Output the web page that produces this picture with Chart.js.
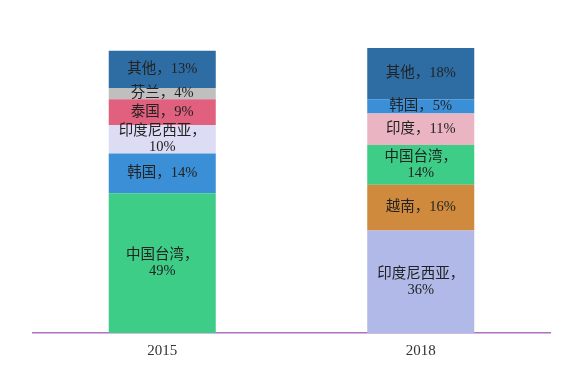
<!DOCTYPE html>
<html>
<head>
<meta charset="utf-8">
<script src="https://cdn.jsdelivr.net/npm/chart.js@4.4.0/dist/chart.umd.min.js"></script>
<style>
  html, body { margin: 0; padding: 0; background: #fff; }
  #wrap { width: 562px; height: 366px; }
</style>
</head>
<body>
<div id="wrap"><canvas id="c" width="562" height="366"></canvas></div>
<script>
// categories and values, bottom segment first
const years = ['2015', '2018'];
const names2015 = ['中国台湾', '韩国', '印度尼西亚', '泰国', '芬兰', '其他'];
const values2015 = [49, 14, 10, 9, 4, 13];
const names2018 = ['印度尼西亚', '越南', '中国台湾', '印度', '韩国', '其他'];
const values2018 = [36, 16, 14, 11, 5, 18];

const colors2015 = ['#3dcd87', '#3a8fd6', '#dcdcf5', '#e0607e', '#bfbfbf', '#2e6da4'];
const colors2018 = ['#b0b9e8', '#cf8a3e', '#3dcd87', '#ebb4c2', '#3a8fd6', '#2e6da4'];

const serif = '"Liberation Serif", "Noto Sans CJK SC", serif';

// one dataset per stack layer
const datasets = values2015.map((v, i) => ({
    label: 'layer' + i,
    data: [v, values2018[i]],
    names: [names2015[i], names2018[i]],
    backgroundColor: [colors2015[i], colors2018[i]],
    borderWidth: 0,
    barPercentage: 0.414,
    categoryPercentage: 1
}));

// draw "name，value%" inside each segment
const segmentLabels = {
    id: 'segmentLabels',
    afterDatasetsDraw(chart) {
        const ctx = chart.ctx;
        ctx.save();
        ctx.font = '14.5px ' + serif;
        ctx.fillStyle = '#222';
        ctx.textAlign = 'center';
        ctx.textBaseline = 'middle';
        chart.data.datasets.forEach((ds, di) => {
            const meta = chart.getDatasetMeta(di);
            meta.data.forEach((bar, i) => {
                const name = ds.names[i];
                const val = ds.data[i] + '%';
                const cy = (bar.y + bar.base) / 2;
                if (name.length >= 4) {
                    ctx.fillText(name + '，', bar.x, cy - 8);
                    ctx.fillText(val, bar.x, cy + 8);
                } else {
                    ctx.fillText(name + '，' + val, bar.x, cy);
                }
            });
        });
        ctx.restore();
    }
};

new Chart(document.getElementById('c'), {
    type: 'bar',
    data: { labels: years, datasets: datasets },
    options: {
        responsive: false,
        animation: false,
        layout: { padding: { left: 33, right: 12, top: 48, bottom: -4 } },
        plugins: {
            legend: { display: false },
            tooltip: { enabled: false }
        },
        scales: {
            x: {
                stacked: true,
                grid: { display: false, drawTicks: false },
                border: { color: '#b070c0', width: 1.5 },
                ticks: {
                    padding: 11,
                    color: '#333',
                    font: { family: serif, size: 15, lineHeight: 1.0 }
                }
            },
            y: {
                stacked: true,
                display: false,
                min: 0,
                max: 100
            }
        }
    },
    plugins: [segmentLabels]
});
</script>
</body>
</html>
